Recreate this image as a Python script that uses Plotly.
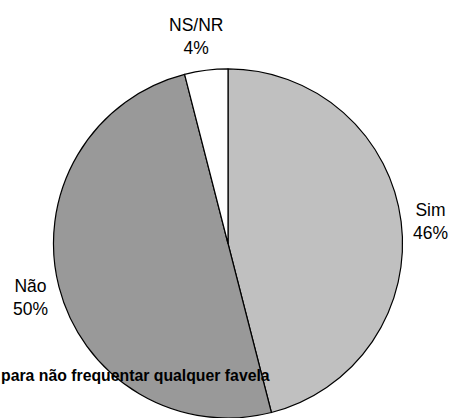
import plotly.graph_objects as go

labels = ["Sim", "Não", "NS/NR"]
values = [46, 50, 4]
colors = ["#c0c0c0", "#999999", "#ffffff"]
title_text = "para não frequentar qualquer favela"

W, H = 449, 418
fig = go.Figure(go.Pie(
    labels=labels, values=values, sort=False, direction="clockwise",
    rotation=0, textinfo="none", hoverinfo="label+percent",
    marker=dict(colors=colors, line=dict(color="#000000", width=1.2)),
    domain=dict(x=[53 / W, 403 / W], y=[0, 0.835]),
    showlegend=False,
))

# label positions in pixels (center x, center y from top)
pos = {"Sim": (430, 221), "Não": (30, 297), "NS/NR": (196, 36)}
total = sum(values)
for lab, val in zip(labels, values):
    px, py = pos[lab]
    fig.add_annotation(
        x=px / W, y=1 - py / H, xref="paper", yref="paper",
        text=f"{lab}<br>{round(100 * val / total)}%", showarrow=False,
        font=dict(family="Liberation Sans, Arial", size=17.5, color="#000000"),
        align="center", xanchor="center", yanchor="middle",
    )

fig.add_annotation(
    x=0, y=1 - 375 / H, xref="paper", yref="paper", text=f"<b>{title_text}</b>",
    showarrow=False, xanchor="left", yanchor="middle", borderpad=0,
    font=dict(family="Liberation Sans, Arial", size=15.8, color="#000000"),
)

fig.update_layout(
    width=W, height=H, margin=dict(l=0, r=0, t=0, b=0),
    paper_bgcolor="#ffffff", plot_bgcolor="#ffffff",
)
fig.write_html("out.html", config={"displayModeBar": False})

with open("out.html", "r", encoding="utf-8") as f:
    html = f.read()
html = html.replace("<body>", '<body style="margin:0;padding:0;overflow:hidden">', 1)
with open("out.html", "w", encoding="utf-8") as f:
    f.write(html)
